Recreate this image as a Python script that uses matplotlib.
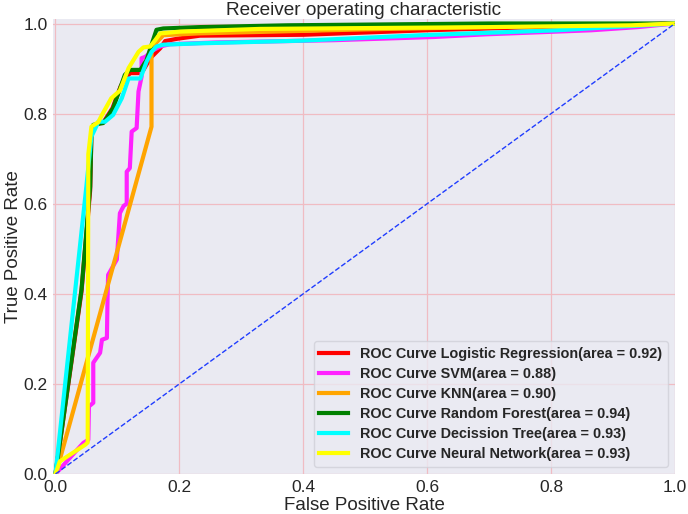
import matplotlib
matplotlib.use('Agg')
import matplotlib.pyplot as plt

# ---- data ----
lr_fpr = [0.0, 0.042, 0.056, 0.058, 0.064, 0.078, 0.092, 0.105, 0.113, 0.121, 0.137, 0.142, 0.153, 0.169, 0.177, 0.196, 0.233, 0.400, 0.600, 0.800, 1.0]
lr_tpr = [0.0, 0.405, 0.630, 0.760, 0.776, 0.782, 0.812, 0.860, 0.880, 0.890, 0.890, 0.897, 0.923, 0.945, 0.961, 0.966, 0.973, 0.975, 0.985, 0.993, 1.0]

svm_fpr = [0.0, 0.026, 0.045, 0.053, 0.054, 0.061, 0.061, 0.072, 0.075, 0.083, 0.084, 0.085, 0.099, 0.104, 0.110, 0.115, 0.115, 0.120, 0.123, 0.131, 0.134, 0.139, 0.139, 0.145, 0.158, 0.169, 0.185, 0.26, 0.45, 0.61, 0.695, 0.865, 0.94, 1.0]
svm_tpr = [0.0, 0.040, 0.069, 0.076, 0.150, 0.158, 0.247, 0.269, 0.298, 0.302, 0.387, 0.442, 0.476, 0.579, 0.595, 0.600, 0.671, 0.679, 0.760, 0.768, 0.849, 0.882, 0.923, 0.926, 0.941, 0.949, 0.954, 0.958, 0.963, 0.970, 0.976, 0.985, 0.992, 1.0]

knn_fpr = [0.0, 0.005, 0.155, 0.155, 0.163, 0.174, 0.230, 0.500, 1.0]
knn_tpr = [0.0, 0.022, 0.771, 0.949, 0.958, 0.974, 0.978, 0.987, 1.0]

rf_fpr = [0.0, 0.042, 0.056, 0.058, 0.061, 0.077, 0.083, 0.093, 0.112, 0.120, 0.137, 0.147, 0.163, 0.174, 0.233, 0.375, 0.700, 1.0]
rf_tpr = [0.0, 0.409, 0.638, 0.750, 0.775, 0.779, 0.790, 0.812, 0.886, 0.897, 0.897, 0.919, 0.986, 0.989, 0.992, 0.996, 1.0, 1.0]

dt_fpr = [0.0, 0.050, 0.058, 0.067, 0.069, 0.080, 0.093, 0.107, 0.118, 0.137, 0.147, 0.155, 0.163, 0.174, 0.233, 0.400, 0.590, 0.810, 1.0]
dt_tpr = [0.0, 0.640, 0.749, 0.775, 0.782, 0.782, 0.797, 0.834, 0.878, 0.878, 0.915, 0.937, 0.949, 0.953, 0.956, 0.962, 0.974, 0.985, 1.0]

nn_fpr = [0.0, 0.007, 0.048, 0.052, 0.053, 0.058, 0.069, 0.075, 0.090, 0.104, 0.118, 0.134, 0.142, 0.153, 0.161, 0.169, 0.201, 0.330, 0.700, 0.930, 1.0]
nn_tpr = [0.0, 0.028, 0.065, 0.070, 0.710, 0.771, 0.781, 0.797, 0.834, 0.851, 0.901, 0.937, 0.947, 0.949, 0.963, 0.978, 0.982, 0.988, 0.992, 0.996, 1.0]

series_labels = [
    'ROC Curve Logistic Regression(area = 0.92)',
    'ROC Curve SVM(area = 0.88)',
    'ROC Curve KNN(area = 0.90)',
    'ROC Curve Random Forest(area = 0.94)',
    'ROC Curve Decission Tree(area = 0.93)',
    'ROC Curve Neural Network(area = 0.93)',
]
series_colors = ['red', '#ff22ff', 'orange', 'green', 'cyan', 'yellow']

x_ticks = [0.0, 0.2, 0.4, 0.6, 0.8, 1.0]
y_ticks = [0.0, 0.2, 0.4, 0.6, 0.8, 1.0]

# ---- style ----
plt.rcParams['font.family'] = ['Liberation Sans', 'DejaVu Sans']
text_color = '#262626'

fig = plt.figure(figsize=(6.88, 5.14), dpi=100)
ax = fig.add_axes([53 / 688, 1 - 474 / 514, (675 - 53) / 688, (474 - 19) / 514])
ax.set_facecolor('#EAEAF2')
for s in ax.spines.values():
    s.set_visible(False)
ax.set_axisbelow(True)
ax.grid(True, color='#f0bcc3', linewidth=0.9)

data = [(lr_fpr, lr_tpr), (svm_fpr, svm_tpr), (knn_fpr, knn_tpr),
        (rf_fpr, rf_tpr), (dt_fpr, dt_tpr), (nn_fpr, nn_tpr)]
for (fx, ty), lab, col in zip(data, series_labels, series_colors):
    ax.plot(fx, ty, color=col, lw=3, label=lab)

ax.plot([0, 1], [0, 1], color='#1f3cff', lw=1, linestyle='--')

ax.set_xlim(-0.004, 1.0)
ax.set_ylim(0.0, 1.01)
ax.set_xticks(x_ticks)
ax.set_yticks(y_ticks)
ax.set_xticklabels([f'{v:.1f}' for v in x_ticks])
ax.set_yticklabels([f'{v:.1f}' for v in y_ticks])
ax.tick_params(axis='both', length=0, labelsize=12.5, colors=text_color, pad=4)

ax.set_xlabel('False Positive Rate', fontsize=13.5, color=text_color, labelpad=2)
ax.set_ylabel('True Positive Rate', fontsize=13.5, color=text_color, labelpad=1)
ax.set_title('Receiver operating characteristic', fontsize=13.7, color=text_color, pad=2)

leg = ax.legend(loc='lower right', prop={'weight': 'bold', 'size': 10.4},
                frameon=True, facecolor='#EAEAF2', edgecolor='#d0d0d8',
                framealpha=0.8, handlelength=2.0, borderaxespad=0.5,
                labelspacing=0.42)
for t in leg.get_texts():
    t.set_color(text_color)

fig.savefig('out.png', dpi=100)
